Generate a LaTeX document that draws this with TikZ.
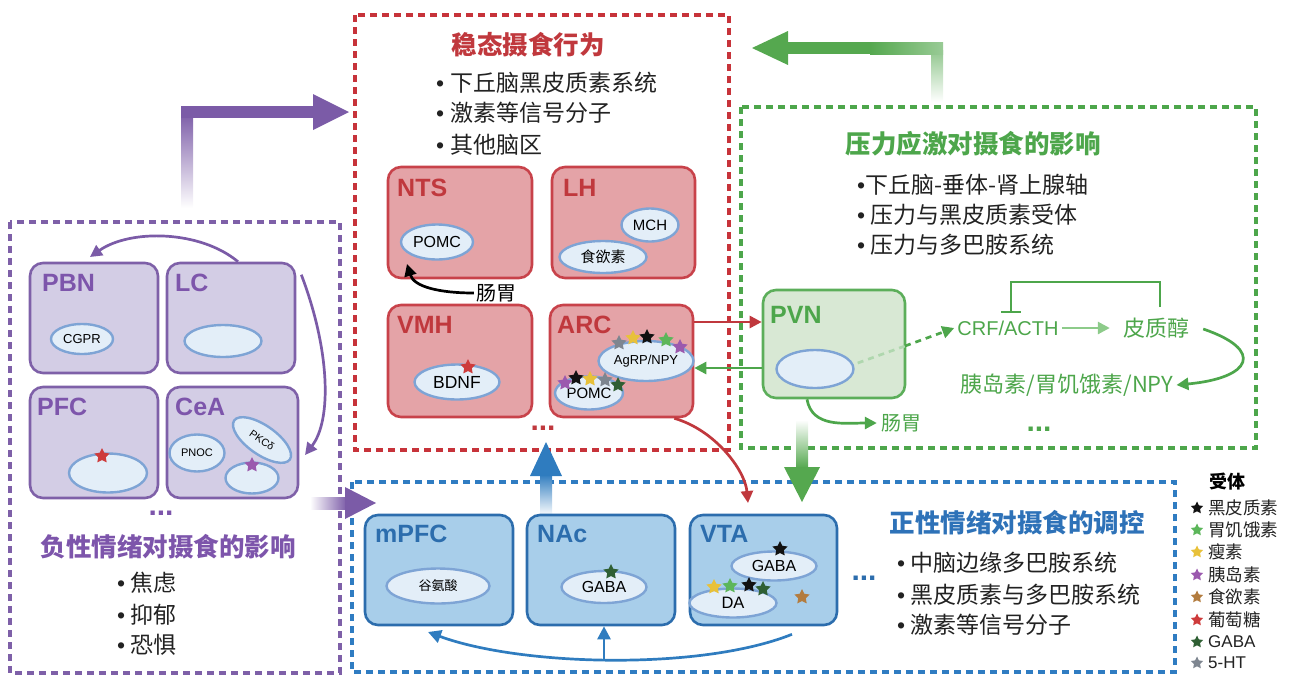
\documentclass[tikz,border=0pt]{standalone}
\usepackage{fontspec}
\setmainfont{Liberation Sans}
\newfontfamily\cjk{Noto Sans CJK SC}
\usetikzlibrary{shapes.geometric,arrows.meta,calc}
\definecolor{redB}{HTML}{C8424A}
\definecolor{redF}{HTML}{E4A3A7}
\definecolor{redT}{HTML}{C0383D}
\definecolor{redD}{HTML}{C7333A}
\definecolor{purB}{HTML}{7E60A8}
\definecolor{purF}{HTML}{D3CDE5}
\definecolor{purT}{HTML}{7D55AB}
\definecolor{purA}{HTML}{7B5BA7}
\definecolor{grnB}{HTML}{5CAE5A}
\definecolor{grnF}{HTML}{D8E8D4}
\definecolor{grnT}{HTML}{4DA64B}
\definecolor{grnL}{HTML}{8DCB8A}
\definecolor{grnA}{HTML}{55A84F}
\definecolor{bluB}{HTML}{2C6DAD}
\definecolor{bluF}{HTML}{A8CEEA}
\definecolor{bluT}{HTML}{2E72B8}
\definecolor{bluD}{HTML}{2F7CC2}
\definecolor{bluA}{HTML}{2F7CBF}
\definecolor{celF}{HTML}{E3EEF8}
\definecolor{celB}{HTML}{7EA4D5}
\definecolor{txt}{HTML}{222222}
\definecolor{sBk}{HTML}{111111}
\definecolor{sGn}{HTML}{5CB65A}
\definecolor{sYl}{HTML}{E8C13A}
\definecolor{sPu}{HTML}{9B59AE}
\definecolor{sBr}{HTML}{B37C3F}
\definecolor{sRd}{HTML}{CE3B3B}
\definecolor{sDg}{HTML}{2F5F33}
\definecolor{sGy}{HTML}{7E8690}
\begin{document}
\begin{tikzpicture}[x=1pt,y=-1pt,
  dbox/.style={line width=3.4pt, dash pattern=on 7pt off 5pt},
  ttl/.style={font=\cjk\bfseries\fontsize{25.5}{28}\selectfont, inner sep=0pt},
  bul/.style={font=\fontsize{23}{26}\selectfont, text=txt, anchor=west, inner sep=0pt},
  reg/.style={font=\bfseries\fontsize{25}{26}\selectfont, anchor=west, inner sep=0pt},
  rbox/.style={draw=redB, fill=redF, rounded corners=13pt, line width=2.6pt},
  pbox/.style={draw=purB, fill=purF, rounded corners=13pt, line width=2.6pt},
  bbox/.style={draw=bluB, fill=bluF, rounded corners=13pt, line width=2.6pt},
  gbox/.style={draw=grnB, fill=grnF, rounded corners=13pt, line width=2.6pt},
  cell/.style={ellipse, draw=celB, fill=celF, line width=2.4pt, inner sep=0pt, text=black},
  st/.style={star, star points=5, star point ratio=2.0, inner sep=0pt, minimum size=16pt, fill=#1, draw=none},
  lst/.style={star, star points=5, star point ratio=2.0, inner sep=0pt, minimum size=13pt, fill=#1, draw=none},
  lg/.style={font=\cjk\fontsize{17.5}{18}\selectfont, anchor=west, inner sep=0pt, text=txt},
  dots/.style={font=\bfseries\fontsize{30}{30}\selectfont, inner sep=0pt, anchor=base},
  tip/.style={-{Triangle[length=12pt,width=12pt]}},
  con/.style={line width=2.7pt}
]
\useasboundingbox (0,0) rectangle (1292,678);

% ---------- dashed frames ----------
\draw[dbox, draw=redD] (355,15) rectangle (729,450);
\draw[dbox, draw=grnT] (741,107) rectangle (1256,448);
\draw[dbox, draw=purB] (10,222) rectangle (340,673);
\draw[dbox, draw=bluD] (352,482) rectangle (1175,672);

% ---------- thick arrows ----------
\shade[top color=purA, bottom color=white] (181,112) rectangle (193,208);
\fill[purA] (181,106) rectangle (316,118);
\fill[purA] (313,94) -- (349,112) -- (313,130) -- cycle;

\shade[top color=grnA!65, bottom color=white] (931,50) rectangle (943,102);
\fill[grnA] (785,42) rectangle (870,54);
\shade[left color=grnA, right color=grnA!60] (870,42) rectangle (943,54);
\fill[grnA] (788,31) -- (752,48) -- (788,65) -- cycle;

\shade[top color=white, bottom color=grnA] (796,420) rectangle (808,468);
\fill[grnA] (784,467) -- (820,467) -- (802,502) -- cycle;

\shade[top color=bluA, bottom color=white] (540,474) rectangle (552,516);
\fill[bluA] (530,476) -- (562,476) -- (546,442) -- cycle;

\shade[left color=white, right color=purA] (310,497) rectangle (347,509);
\fill[purA] (345,487) -- (376,503) -- (345,519) -- cycle;

% ---------- red region ----------
\node[ttl, text=redT] (t1) at (528,45) {稳态摄食行为};
\node[bul] (b1) at (436,83) {•\hspace{6pt}{\cjk 下丘脑黑皮质素系统}};
\node[bul] (b2) at (436,113) {•\hspace{6pt}{\cjk 激素等信号分子}};
\node[bul] (b3) at (436,145) {•\hspace{6pt}{\cjk 其他脑区}};

\node[rbox, minimum width=144pt, minimum height=111pt] (NTS) at (460,222.5) {};
\node[reg, text=redT] (NTSl) at (397,188) {NTS};
\node[cell, minimum width=72pt, minimum height=35pt, font=\fontsize{16}{16}\selectfont] (pomc1) at (437,242) {POMC};
\node[font=\cjk\fontsize{20}{20}\selectfont, inner sep=0pt, text=black] (gut1) at (496,293) {肠胃};
\coordinate (g1tip) at (407,264);
\draw[con, tip] ([xshift=-2pt]gut1.west) .. controls (440,293) and (414,287) .. (g1tip);

\node[rbox, minimum width=143pt, minimum height=111pt] (LH) at (623.5,222.5) {};
\node[reg, text=redT] (LHl) at (563,188) {LH};
\node[cell, minimum width=57pt, minimum height=33pt, font=\fontsize{15}{15}\selectfont] (mch) at (650,225) {MCH};
\node[cell, minimum width=87pt, minimum height=32pt, font=\cjk\fontsize{15}{15}\selectfont] (orx) at (603,257) {食欲素};

\node[rbox, minimum width=144pt, minimum height=112pt] (VMH) at (460,361) {};
\node[reg, text=redT] (VMHl) at (397,325) {VMH};
\node[cell, minimum width=85pt, minimum height=35pt, font=\fontsize{17.5}{18}\selectfont] (bdnf) at (457,382) {BDNF};
\node[st=sRd] (s1) at (468,367) {};

\node[rbox, minimum width=143pt, minimum height=112pt] (ARC) at (621.5,361) {};
\node[reg, text=redT] (ARCl) at (557,325) {ARC};
\node[cell, minimum width=95pt, minimum height=40pt, font=\fontsize{13}{13}\selectfont] (agrp) at (646,361) {AgRP/NPY};
\node[cell, minimum width=68pt, minimum height=33pt, font=\fontsize{15}{15}\selectfont] (pomc2) at (589,393) {POMC};
\node[st=sGy] (s2) at (619,343) {};
\node[st=sYl] (s3) at (633,338) {};
\node[st=sBk] (s4) at (647,337) {};
\node[st=sGn] (s5) at (666,340) {};
\node[st=sPu] (s6) at (680,347) {};
\node[st=sPu] (s7) at (565,383) {};
\node[st=sBk] (s8) at (576,378) {};
\node[st=sYl] (s9) at (590,379) {};
\node[st=sGy] (s10) at (605,380) {};
\node[st=sDg] (s11) at (618,385) {};
\node[dots, text=redT] (d1) at (543,430) {...};

% ARC <-> PVN
\node[gbox, minimum width=142pt, minimum height=108pt] (PVN) at (834,344) {};
\node[reg, text=grnT] (PVNl) at (770,315) {PVN};
\node[cell, minimum width=77pt, minimum height=38pt] (pvc) at (815,369) {};
\draw[redT, con, tip] ([yshift=39pt]ARC.east) -- ([yshift=22pt]PVN.west);
\draw[grnT, con, tip] ([yshift=-24pt]PVN.west) -- ([yshift=-7pt]ARC.east);
\coordinate (vtatip) at (748,503);
\draw[redT, con, tip] ([xshift=-20pt]ARC.south east) .. controls (715,430) and (745,470) .. (vtatip);

% ---------- green region ----------
\node[ttl, text=grnT] (t2) at (973,144) {压力应激对摄食的影响};
\node[bul] (b4) at (857,185) {•{\cjk 下丘脑-垂体-肾上腺轴}};
\node[bul] (b5) at (857,215) {•\hspace{5pt}{\cjk 压力与黑皮质素受体}};
\node[bul] (b6) at (857,245) {•\hspace{5pt}{\cjk 压力与多巴胺系统}};

\node[font=\fontsize{20}{20}\selectfont, text=grnT, inner sep=0pt] (crf) at (1008,328) {CRF/ACTH};
\node[font=\cjk\fontsize{22}{22}\selectfont, text=grnT, inner sep=0pt] (cort) at (1156,328) {皮质醇};
\node[font=\cjk\fontsize{22}{22}\selectfont, text=grnT, inner sep=0pt] (ins) at (1067,385) {胰岛素/胃饥饿素/NPY};
\node[font=\cjk\fontsize{20}{20}\selectfont, text=grnT, inner sep=0pt] (gut2) at (901,423) {肠胃};
\node[dots, text=grnT] (d2) at (1039,431) {...};

\coordinate (dmid) at (905,346);
\draw[grnT!45, line width=2.7pt, dash pattern=on 6pt off 5pt] ([shift={(3pt,6pt)}]pvc.east) -- (dmid);
\draw[grnT, line width=2.7pt, dash pattern=on 6pt off 5pt, tip] (dmid) -- ([xshift=-3pt]crf.west);
\draw[grnL, con, tip] ([xshift=3pt]crf.east) -- ([xshift=-13pt]cort.west);
\coordinate (br1) at (1160,307);
\coordinate (br2) at (1011,312);
\draw[grnT, con] (br1) -- ++(0,-25) -| (br2);
\draw[grnT, con] ([xshift=-10pt]br2) -- ([xshift=10pt]br2);
\draw[grnT, con, tip] ([xshift=14pt,yshift=-1pt]cort.east) .. controls (1265,350) and (1252,378) .. ([xshift=3pt]ins.east);
\draw[grnT, con, tip] ([xshift=-27pt]PVN.south) .. controls (812,428) and (845,423) .. ([xshift=-4pt]gut2.west);

% ---------- purple region ----------
\node[pbox, minimum width=128pt, minimum height=110pt] (PBN) at (94,318) {};
\node[reg, text=purT] (PBNl) at (42,283) {PBN};
\node[cell, minimum width=62pt, minimum height=30pt, font=\fontsize{13}{13}\selectfont] (cgpr) at (82,339) {CGPR};

\node[pbox, minimum width=128pt, minimum height=110pt] (LC) at (231,318) {};
\node[reg, text=purT] (LCl) at (175,283) {LC};
\node[cell, minimum width=77pt, minimum height=32pt] (lcc) at (223,341) {};

\node[pbox, minimum width=128pt, minimum height=111pt] (PFC) at (94,442.5) {};
\node[reg, text=purT] (PFCl) at (37,407) {PFC};
\node[cell, minimum width=78pt, minimum height=39pt] (pfcc) at (108,473) {};
\node[st=sRd] (s12) at (102,456) {};

\node[pbox, minimum width=131pt, minimum height=111pt] (CeA) at (232.5,442.5) {};
\node[reg, text=purT] (CeAl) at (175,407) {CeA};
\node[cell, minimum width=55pt, minimum height=37pt, font=\fontsize{11}{11}\selectfont] (pnoc) at (197,453) {PNOC};
\node[cell, minimum width=68pt, minimum height=29pt, rotate=-35, font=\fontsize{10.5}{11}\selectfont] (pkc) at (262,440) {PKCδ};
\node[cell, minimum width=53pt, minimum height=31pt] (ceac) at (252,478) {};
\node[st=sPu] (s13) at (252,465) {};
\node[dots, text=purT] (d3) at (161,515) {...};

\coordinate (pbntip) at (90,257);
\draw[purA, con, tip] ([xshift=7pt]LC.north) .. controls (200,230) and (130,229) .. (pbntip);
\coordinate (ceatip) at (305,455);
\draw[purA, con, tip] ([shift={(5pt,-13pt)}]LC.north east) .. controls (330,350) and (332,420) .. (ceatip);

\node[ttl, text=purT] (t3) at (168,547) {负性情绪对摄食的影响};
\node[bul] (b7) at (117,583) {•\hspace{5pt}{\cjk 焦虑}};
\node[bul] (b8) at (117,615) {•\hspace{5pt}{\cjk 抑郁}};
\node[bul] (b9) at (117,645) {•\hspace{5pt}{\cjk 恐惧}};

% ---------- blue region ----------
\node[bbox, minimum width=148pt, minimum height=110pt] (mPFC) at (439,570) {};
\node[reg, text=bluB] (mPFCl) at (375,534) {mPFC};
\node[cell, minimum width=103pt, minimum height=35pt, font=\cjk\fontsize{13}{13}\selectfont] (glu) at (438,586) {谷氨酸};

\node[bbox, minimum width=148pt, minimum height=110pt] (NAc) at (601,570) {};
\node[reg, text=bluB] (NAcl) at (537,534) {NAc};
\node[cell, minimum width=85pt, minimum height=32pt, font=\fontsize{16}{16}\selectfont] (gaba1) at (604,587) {GABA};
\node[st=sDg] (s14) at (611,572) {};

\node[bbox, minimum width=147pt, minimum height=110pt] (VTA) at (763.5,570) {};
\node[reg, text=bluB] (VTAl) at (700,534) {VTA};
\node[cell, minimum width=85pt, minimum height=29pt, font=\fontsize{16}{16}\selectfont] (gaba2) at (774,566) {GABA};
\node[st=sBk] (s15) at (780,549) {};
\node[cell, minimum width=87pt, minimum height=29pt, font=\fontsize{16.5}{17}\selectfont] (da) at (733,603) {DA};
\node[st=sYl] (s16) at (714,587) {};
\node[st=sGn] (s17) at (730,586) {};
\node[st=sBk] (s18) at (749,585) {};
\node[st=sDg] (s19) at (763,589) {};
\node[st=sBr] (s20) at (802,597) {};
\node[dots, text=bluB] (d4) at (864,580) {...};

\coordinate (mtip) at (428,632);
\coordinate (bmid) at (604,659);
\draw[bluA, con, -{Triangle[length=13pt,width=13pt]}] ([shift={(28.5pt,-8pt)}]VTA.south) .. controls (700,671) and (520,666) .. (mtip);
\draw[bluA, con, -{Triangle[length=13pt,width=13pt]}] (bmid) -- ([xshift=3pt]NAc.south);

\node[ttl, text=bluT] (t4) at (1017,523) {正性情绪对摄食的调控};
\node[bul] (b10) at (897,563) {•\hspace{5pt}{\cjk 中脑边缘多巴胺系统}};
\node[bul] (b11) at (897,595) {•\hspace{5pt}{\cjk 黑皮质素与多巴胺系统}};
\node[bul] (b12) at (897,625) {•\hspace{5pt}{\cjk 激素等信号分子}};

% ---------- legend ----------
\node[font=\cjk\bfseries\fontsize{18}{18}\selectfont, inner sep=0pt, text=black] (lgt) at (1227,482) {受体};
\node[lst=sBk] (l1) at (1197,508) {};
\node[lg] (lt1) at (1208,508) {黑皮质素};
\node[lst=sGn] (l2) at (1197,530) {};
\node[lg] (lt2) at (1208,530) {胃饥饿素};
\node[lst=sYl] (l3) at (1197,552) {};
\node[lg] (lt3) at (1208,552) {瘦素};
\node[lst=sPu] (l4) at (1197,575) {};
\node[lg] (lt4) at (1208,575) {胰岛素};
\node[lst=sBr] (l5) at (1197,597) {};
\node[lg] (lt5) at (1208,597) {食欲素};
\node[lst=sRd] (l6) at (1197,620) {};
\node[lg] (lt6) at (1208,620) {葡萄糖};
\node[lst=sDg] (l7) at (1197,642) {};
\node[lg, font=\fontsize{17}{18}\selectfont] (lt7) at (1208,642) {GABA};
\node[lst=sGy] (l8) at (1197,663) {};
\node[lg, font=\fontsize{17}{18}\selectfont] (lt8) at (1208,663) {5-HT};
\end{tikzpicture}
\end{document}
